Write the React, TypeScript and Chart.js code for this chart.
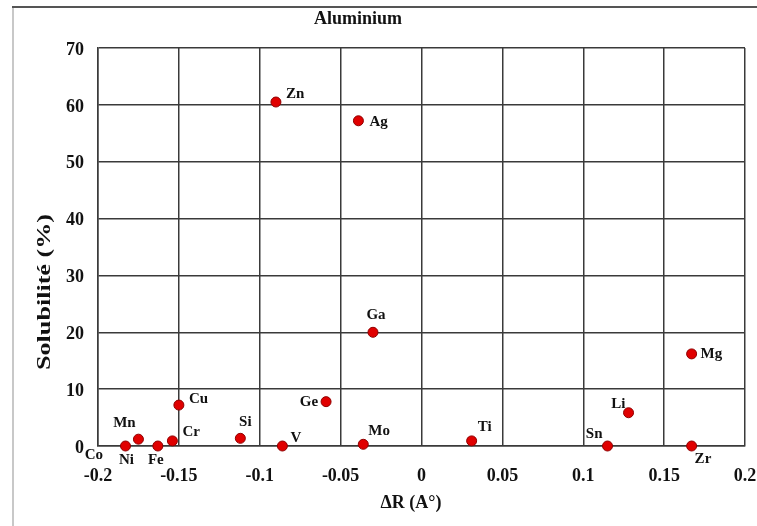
import React, { useEffect, useRef } from 'react';
import { Chart, registerables } from 'chart.js';

Chart.register(...registerables);

// ---- data ----
const elements = ['Co', 'Ni', 'Mn', 'Fe', 'Cr', 'Cu', 'Si', 'V', 'Zn', 'Ge', 'Ag', 'Mo', 'Ga', 'Ti', 'Sn', 'Li', 'Mg', 'Zr'];
const deltaR = [-0.205, -0.183, -0.175, -0.163, -0.154, -0.150, -0.112, -0.086, -0.090, -0.059, -0.039, -0.036, -0.030, 0.031, 0.115, 0.128, 0.167, 0.167];
const solubility = [0, 0, 1.2, 0, 0.9, 7.2, 1.35, 0, 60.5, 7.8, 57.2, 0.3, 20.0, 0.9, 0, 5.85, 16.2, 0];

const xTicks = [-0.2, -0.15, -0.1, -0.05, 0, 0.05, 0.1, 0.15, 0.2];
const xTickLabels = ['-0.2', '-0.15', '-0.1', '-0.05', '0', '0.05', '0.1', '0.15', '0.2'];
const yTicks = [0, 10, 20, 30, 40, 50, 60, 70];
const yTickLabels = ['0', '10', '20', '30', '40', '50', '60', '70'];

const chartTitle = 'Aluminium';
const xTitle = 'ΔR (A°)';
const yTitle = 'Solubilité (%)';

// ---- label placement (style) : [dx, dy, align] ----
const labelPlacement: Record<string, [number, number, CanvasTextAlign]> = {
  Co: [4, 9, 'center'],
  Ni: [1, 14, 'center'],
  Mn: [-14, -16, 'center'],
  Fe: [-2, 14, 'center'],
  Cr: [10, -9, 'left'],
  Cu: [10, -6, 'left'],
  Si: [5, -16, 'center'],
  V: [8, -8, 'left'],
  Zn: [10, -8, 'left'],
  Ge: [-8, 0, 'right'],
  Ag: [11, 1, 'left'],
  Mo: [5, -13, 'left'],
  Ga: [3, -17, 'center'],
  Ti: [6, -14, 'left'],
  Sn: [-5, -12, 'right'],
  Li: [-3, -9, 'right'],
  Mg: [9, 0, 'left'],
  Zr: [3, 13, 'left'],
};

const FONT = '"Liberation Serif", "Times New Roman", serif';
const W = 757;
const H = 526;

export default function App() {
  const ref = useRef<HTMLCanvasElement | null>(null);

  useEffect(() => {
    if (!ref.current) return;

    const framePlugin = {
      id: 'frame',
      beforeDraw(chart: any) {
        const ctx = chart.ctx;
        ctx.save();
        ctx.fillStyle = '#ffffff';
        ctx.fillRect(0, 0, chart.width, chart.height);
        ctx.strokeStyle = '#c8c8c8';
        ctx.lineWidth = 2;
        ctx.beginPath();
        ctx.moveTo(13, 7);
        ctx.lineTo(13, chart.height);
        ctx.stroke();
        ctx.strokeStyle = '#555555';
        ctx.beginPath();
        ctx.moveTo(12, 7);
        ctx.lineTo(chart.width, 7);
        ctx.stroke();
        ctx.restore();
      },
      afterDraw(chart: any) {
        const ctx = chart.ctx;
        ctx.save();
        ctx.fillStyle = '#111111';
        ctx.textAlign = 'center';
        ctx.textBaseline = 'middle';
        ctx.font = `bold 18px ${FONT}`;
        ctx.fillText(chartTitle, 358, 19);
        ctx.fillText(xTitle, 411, 503);
        ctx.translate(45, 292);
        ctx.rotate(-Math.PI / 2);
        ctx.scale(1.45, 1);
        ctx.fillText(yTitle, 0, 0);
        ctx.restore();
      },
    };

    const labelPlugin = {
      id: 'pointLabels',
      afterDatasetsDraw(chart: any) {
        const ctx = chart.ctx;
        const meta = chart.getDatasetMeta(0);
        ctx.save();
        ctx.fillStyle = '#111111';
        ctx.font = `bold 15px ${FONT}`;
        ctx.textBaseline = 'middle';
        meta.data.forEach((pt: any, i: number) => {
          const name = elements[i];
          const [dx, dy, align] = labelPlacement[name] || [8, 0, 'left'];
          ctx.textAlign = align;
          ctx.fillText(name, pt.x + dx, pt.y + dy);
        });
        ctx.restore();
      },
    };

    const zeroPad = (s: any) => {
      s.paddingLeft = 0;
      s.paddingRight = 0;
      s.paddingTop = 0;
      s.paddingBottom = 0;
    };

    const chart = new Chart(ref.current, {
      type: 'scatter',
      data: {
        datasets: [
          {
            label: chartTitle,
            data: deltaR.map((x, i) => ({ x, y: solubility[i] })),
            backgroundColor: '#e00000',
            borderColor: '#900000',
            borderWidth: 1,
            pointRadius: (c: any) => {
              const v = c.raw;
              const s = c.chart.scales.x;
              if (!v || !s) return 5;
              return v.x < s.min || v.x > s.max ? 0 : 5;
            },
            clip: false as any,
          },
        ],
      },
      options: {
        animation: false,
        responsive: false,
        maintainAspectRatio: false,
        devicePixelRatio: 1,
        layout: { padding: { left: 38, right: 12, top: 48, bottom: 20 } },
        plugins: {
          legend: { display: false },
          title: { display: false },
          tooltip: { enabled: false },
        },
        scales: {
          x: {
            type: 'linear',
            min: -0.2,
            max: 0.2,
            afterFit: (s: any) => {
              s.height = 60;
              zeroPad(s);
            },
            afterBuildTicks: (s: any) => {
              s.ticks = xTicks.map((v) => ({ value: v }));
            },
            ticks: {
              callback: (_v: any, i: number) => xTickLabels[i],
              font: { family: FONT, size: 18, weight: 'bold' },
              color: '#111111',
              padding: 20,
              maxRotation: 0,
              autoSkip: false,
            },
            grid: { color: '#3a3a3a', lineWidth: 1.5, drawTicks: false },
            border: { color: '#3a3a3a', width: 1.5 },
          },
          y: {
            type: 'linear',
            min: 0,
            max: 70,
            afterFit: (s: any) => {
              s.width = 60;
              zeroPad(s);
            },
            afterBuildTicks: (s: any) => {
              s.ticks = yTicks.map((v) => ({ value: v }));
            },
            ticks: {
              callback: (_v: any, i: number) => yTickLabels[i],
              font: { family: FONT, size: 18, weight: 'bold' },
              color: '#111111',
              padding: 14,
              labelOffset: 2,
              autoSkip: false,
            },
            grid: { color: '#3a3a3a', lineWidth: 1.5, drawTicks: false },
            border: { color: '#3a3a3a', width: 1.5 },
          },
        },
      },
      plugins: [framePlugin, labelPlugin],
    } as any);

    return () => chart.destroy();
  }, []);

  return (
    <div style={{ position: 'fixed', left: 0, top: 0, width: W, height: H, background: '#fff' }}>
      <canvas ref={ref} width={W} height={H} style={{ width: W, height: H, display: 'block' }} />
    </div>
  );
}
